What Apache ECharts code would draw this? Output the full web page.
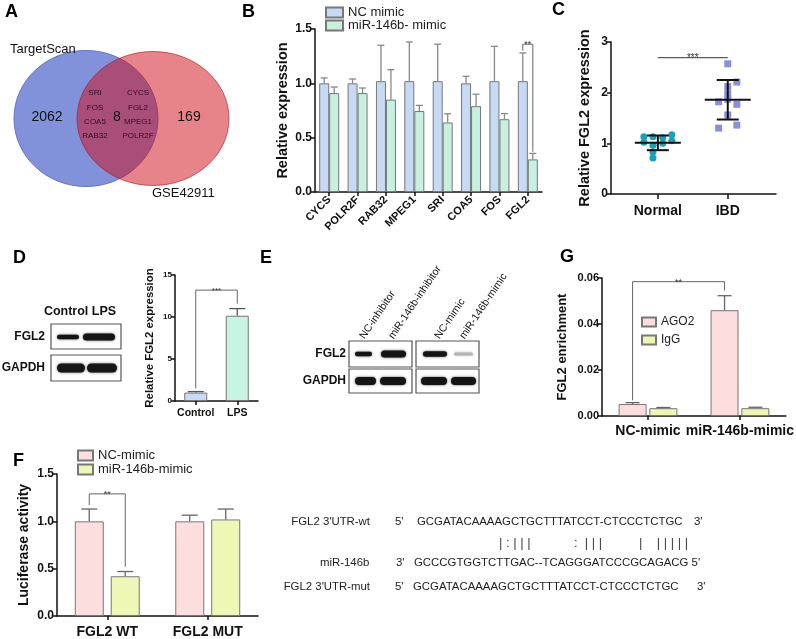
<!DOCTYPE html>
<html><head><meta charset="utf-8">
<script src="https://cdn.jsdelivr.net/npm/echarts@6/dist/echarts.min.js"></script>
<style>html,body{margin:0;padding:0;background:#fff}#c{width:796px;height:639px}</style>
</head><body><div id="c"></div>
<script>
const FONT = '"Liberation Sans", Arial, Helvetica, sans-serif';

// ---------- Panel A (Venn) ----------
const vennSets = ['TargetScan', 'GSE42911'];
const vennCounts = [2062, 8, 169];
const vennGenesLeft = ['SRI', 'FOS', 'COA5', 'RAB32'];
const vennGenesRight = ['CYCS', 'FGL2', 'MPEG1', 'POLR2F'];

// ---------- Panel B ----------
const bGenes = ['CYCS', 'POLR2F', 'RAB32', 'MPEG1', 'SRI', 'COA5', 'FOS', 'FGL2'];
const bSeries = ['NC mimic', 'miR-146b- mimic'];
const bNC = [1.00, 1.00, 1.02, 1.02, 1.02, 1.00, 1.02, 1.02];
const bNCerr = [0.05, 0.04, 0.33, 0.36, 0.34, 0.065, 0.32, 0.26];
const bMimic = [0.91, 0.91, 0.85, 0.745, 0.64, 0.79, 0.67, 0.30];
const bMimicErr = [0.056, 0.047, 0.276, 0.052, 0.08, 0.11, 0.052, 0.055];
const bSig = {i: 7, top: 1.36, l: 1.30, r: 0.37, label: '**'};

// ---------- Panel C ----------
const cGroups = ['Normal', 'IBD'];
const cCenters = [0.67, 1.67];
const cNormalVals = [1.13, 1.13, 1.11, 1.17, 1.02, 0.96, 1.00, 1.05, 0.83, 0.71];
const cNormalJit = [-0.2, -0.07, 0.07, 0.2, -0.2, -0.07, 0.07, 0.2, -0.07, -0.07];
const cIBDVals = [2.57, 2.21, 2.12, 1.98, 1.82, 1.87, 1.77, 1.56, 1.30, 1.36];
const cIBDJit = [0, 0.13, 0, 0, -0.13, 0, 0.13, 0, -0.13, 0.13];
const cMean = [1.01, 1.86];
const cSD = [0.145, 0.39];
const cSig = {top: 2.69, label: '***'};

// ---------- Panel D ----------
const dCats = ['Control', 'LPS'];
const dVals = [1.0, 10.15];
const dErr = [0.12, 0.85];
const dSig = {top: 13.2, l: 1.5, r: 11.6, label: '***'};
const dBlotRows = ['FGL2', 'GAPDH'];

// ---------- Panel E ----------
const eLanes = ['NC-inhibitor', 'miR-146b-inhibitor', 'NC-mimic', 'miR-146b-mimic'];

// ---------- Panel G ----------
const gCats = ['NC-mimic', 'miR-146b-mimic'];
const gSeries = ['AGO2', 'IgG'];
const gAGO2 = [0.0052, 0.046];
const gAGO2err = [0.0006, 0.0063];
const gIgG = [0.0034, 0.0034];
const gIgGerr = [0.0003, 0.0004];
const gSig = {top: 0.0584, l: 0.0068, r: 0.0545, label: '**'};

// ---------- Panel F ----------
const fCats = ['FGL2 WT', 'FGL2 MUT'];
const fSeries = ['NC-mimic', 'miR-146b-mimic'];
const fNC = [1.0, 1.0];
const fNCerr = [0.13, 0.065];
const fMimic = [0.42, 1.02];
const fMimicErr = [0.05, 0.11];
const fSig = {top: 1.29, l: 1.17, r: 0.52, label: '**'};

// ---------- Sequences ----------
const seqLabels = ["FGL2 3'UTR-wt", 'miR-146b', "FGL2 3'UTR-mut"];
const seqWT = 'GCGATACAAAAGCTGCTTTATCCT-CTCCCTCTGC';
const seqMiR = 'GCCCGTGGTCTTGAC--TCAGGGATCCCGCAGACG';
const seqMUT = 'GCGATACAAAAGCTGCTTTATCCT-CTCCCTCTGC';
const seqMatch = ['| : | | |', ':  | | |', '|    | | | | |'];

// ================= helpers =================
const G = [];
function txt(x, y, text, o = {}) {
  G.push({type: 'text', x, y, rotation: o.rot || 0, silent: true, z: 10,
    style: {text, fill: o.color || '#111',
      font: (o.bold ? 'bold ' : '') + (o.size || 12) + 'px ' + FONT,
      align: o.align || 'left', verticalAlign: o.va || 'middle'}});
}
function rect(x, y, w, h, style, r) {
  G.push({type: 'rect', silent: true, z: 5, shape: {x, y, width: w, height: h, r: r || 0}, style});
}
function band(x, y, w, h, color) {
  rect(x, y - h / 2, w, h, {fill: color || '#151515', shadowBlur: 2.5, shadowColor: color || 'rgba(0,0,0,0.7)'}, h / 2);
}

function yAx(gi, min, max, interval, name, nameSize, nameGap, labSize, dec) {
  return {type: 'value', gridIndex: gi, min, max, interval, name, nameLocation: 'middle', nameGap, nameRotate: 90,
    nameTextStyle: {fontSize: nameSize, fontWeight: 'bold', color: '#111', fontFamily: FONT},
    axisLine: {show: true, lineStyle: {color: '#111', width: 1.5}},
    axisTick: {show: true, length: 4, lineStyle: {color: '#111', width: 1.5}},
    axisLabel: {fontSize: labSize, fontWeight: 'bold', color: '#111', margin: 3, fontFamily: FONT,
      formatter: v => v.toFixed(dec)},
    splitLine: {show: false}};
}
function xCat(gi, data, labSize, margin, rotate) {
  return {type: 'category', gridIndex: gi, data,
    axisLine: {show: true, lineStyle: {color: '#111', width: 1.5}},
    axisTick: {show: true, alignWithLabel: true, length: 4, lineStyle: {color: '#111', width: 1.5}},
    axisLabel: {interval: 0, rotate: rotate || 0, fontSize: labSize, fontWeight: 'bold', color: '#111', margin, fontFamily: FONT},
    splitLine: {show: false}};
}
function errSeries(ai, vals, errs, off, cap, color) {
  return {type: 'custom', xAxisIndex: ai, yAxisIndex: ai, z: 3, silent: true,
    data: vals.map((v, i) => [i, v, errs[i]]), encode: {x: 0, y: 1},
    renderItem: (p, api) => {
      const a = api.coord([api.value(0), api.value(1)]);
      const b = api.coord([api.value(0), api.value(1) + api.value(2)]);
      const x = a[0] + off;
      return {type: 'group', children: [
        {type: 'line', shape: {x1: x, y1: a[1], x2: x, y2: b[1]}, style: {stroke: color, lineWidth: 1.3}},
        {type: 'line', shape: {x1: x - cap / 2, y1: b[1], x2: x + cap / 2, y2: b[1]}, style: {stroke: color, lineWidth: 1.3}}
      ]};
    }};
}
function bracketSeries(ai, x1, x2, sig, offL, offR, fs) {
  return {type: 'custom', xAxisIndex: ai, yAxisIndex: ai, z: 4, silent: true,
    data: [[x1, x2, sig.top, sig.l, sig.r]], encode: {x: 0, y: 2},
    renderItem: (p, api) => {
      const ta = api.coord([api.value(0), api.value(2)]);
      const tb = api.coord([api.value(1), api.value(2)]);
      const la = api.coord([api.value(0), api.value(3)]);
      const rb = api.coord([api.value(1), api.value(4)]);
      const xa = ta[0] + offL, xb = tb[0] + offR, yt = ta[1];
      return {type: 'group', children: [
        {type: 'polyline', shape: {points: [[xa, la[1]], [xa, yt], [xb, yt], [xb, rb[1]]]},
          style: {stroke: '#666', lineWidth: 1, fill: null}},
        {type: 'text', style: {text: sig.label, x: (xa + xb) / 2, y: yt + 0.5, align: 'center', verticalAlign: 'middle',
          font: fs + 'px ' + FONT, fill: '#333'}}
      ]};
    }};
}

// ================= Graphic: panel letters =================
[['A', 5, 3], ['B', 242, 3], ['C', 552, 1], ['D', 13, 249], ['E', 260, 249], ['G', 560, 248], ['F', 13, 452]]
  .forEach(([t, x, y]) => txt(x, y, t, {bold: true, size: 18, va: 'top', color: '#000'}));

// ================= Venn =================
G.push({type: 'ellipse', silent: true, z: 1, shape: {cx: 86, cy: 118.5, rx: 72, ry: 68},
  style: {fill: '#8292da', stroke: '#6474ca', lineWidth: 1}});
G.push({type: 'ellipse', silent: true, z: 2, shape: {cx: 153, cy: 118.5, rx: 76, ry: 67},
  style: {fill: 'rgba(208,10,22,0.5)', stroke: 'rgba(170,20,30,0.6)', lineWidth: 1}});
txt(10, 49, vennSets[0], {size: 13});
txt(152, 193, vennSets[1], {size: 13});
txt(47, 117, String(vennCounts[0]), {size: 14, align: 'center'});
txt(117, 117, String(vennCounts[1]), {size: 14, align: 'center'});
txt(189, 117, String(vennCounts[2]), {size: 14, align: 'center'});
vennGenesLeft.forEach((g, i) => txt(95, 93 + i * 14.3, g, {size: 8, align: 'center', color: '#2a1020'}));
vennGenesRight.forEach((g, i) => txt(138, 93 + i * 14.3, g, {size: 8, align: 'center', color: '#2a1020'}));

// ================= D blot =================
txt(80, 312, 'Control LPS', {bold: true, size: 12.5, align: 'center'});
txt(45, 337, dBlotRows[0], {bold: true, size: 12, align: 'right'});
txt(45, 368, dBlotRows[1], {bold: true, size: 12, align: 'right'});
rect(51, 324, 70, 25, {fill: '#fff', stroke: '#555', lineWidth: 1.2});
rect(51, 355, 70, 26, {fill: '#fff', stroke: '#555', lineWidth: 1.2});
band(57, 337, 22, 4.5);
band(83, 337, 32, 7);
band(57, 368, 28, 9);
band(87, 368, 30, 9);

// ================= E blot =================
const eTop1 = 341, eTop2 = 369;
txt(346, eTop1 + 13, 'FGL2', {bold: true, size: 12, align: 'right'});
txt(346, eTop2 + 12, 'GAPDH', {bold: true, size: 12, align: 'right'});
rect(349, eTop1, 63, 26, {fill: '#fff', stroke: '#555', lineWidth: 1.2});
rect(416, eTop1, 63, 26, {fill: '#fff', stroke: '#555', lineWidth: 1.2});
rect(349, eTop2, 63, 24, {fill: '#fff', stroke: '#555', lineWidth: 1.2});
rect(416, eTop2, 63, 24, {fill: '#fff', stroke: '#555', lineWidth: 1.2});
band(355, eTop1 + 13, 17, 4.5);
band(381, eTop1 + 13, 25, 7);
band(423, eTop1 + 13, 24, 5.5);
band(454, eTop1 + 13, 19, 3, '#b5b5b5');
band(355, eTop2 + 12, 21, 8);
band(380, eTop2 + 12, 26, 8);
band(421, eTop2 + 12, 26, 8);
band(451, eTop2 + 12, 25, 8);
[362, 391, 437, 462].forEach((x, i) =>
  txt(x, eTop1 - 3, eLanes[i], {size: 10.5, rot: 56 * Math.PI / 180, align: 'left', va: 'middle', color: '#111'}));

// ================= Sequences =================
const SF = 11.4;
txt(370, 522, seqLabels[0], {size: SF, align: 'right', color: '#222'});
txt(320, 563, seqLabels[1], {size: SF, color: '#222'});
txt(370, 587, seqLabels[2], {size: SF, align: 'right', color: '#222'});
txt(395, 522, "5'", {size: SF, color: '#222'});
txt(417, 522, seqWT, {size: SF, color: '#222'});
txt(694, 522, "3'", {size: SF, color: '#222'});
txt(396, 563, "3'", {size: SF, color: '#222'});
txt(414, 563, seqMiR + " 5'", {size: SF, color: '#222'});
txt(395, 587, "5'", {size: SF, color: '#222'});
txt(413, 587, seqMUT, {size: SF, color: '#222'});
txt(697, 587, "3'", {size: SF, color: '#222'});
txt(499, 543, seqMatch[0], {size: 13, color: '#444'});
txt(574, 543, seqMatch[1], {size: 13, color: '#444'});
txt(639, 543, seqMatch[2], {size: 13, color: '#444'});

// ================= option =================
const option = {
  animation: false,
  backgroundColor: '#fff',
  textStyle: {fontFamily: FONT},
  grid: [
    {left: 315, top: 29, width: 227, height: 163},
    {left: 611, top: 42, width: 165, height: 152},
    {left: 175, top: 275, width: 83, height: 126},
    {left: 602, top: 278, width: 188, height: 138},
    {left: 57, top: 474, width: 201, height: 144}
  ],
  xAxis: [
    xCat(0, bGenes, 11, 6, 45),
    {type: 'value', gridIndex: 1, min: 0, max: 2.36,
      axisLine: {show: true, lineStyle: {color: '#111', width: 1.5}},
      axisTick: {show: true, customValues: cCenters, length: 5, lineStyle: {color: '#111', width: 1.5}},
      axisLabel: {customValues: cCenters, fontSize: 14, fontWeight: 'bold', color: '#111', margin: 10, fontFamily: FONT,
        formatter: v => cGroups[cCenters.findIndex(c => Math.abs(c - v) < 1e-6)] || ''},
      splitLine: {show: false}},
    xCat(2, dCats, 10.5, 7, 0),
    xCat(3, gCats, 14, 8, 0),
    xCat(4, fCats, 14, 9, 0)
  ],
  yAxis: [
    yAx(0, 0, 1.5, 0.5, 'Relative expression', 14.5, 25, 12, 1),
    yAx(1, 0, 3, 1, 'Relative FGL2 expression', 14.5, 19, 12, 0),
    yAx(2, 0, 15, 5, 'Relative FGL2 expression', 11.4, 20, 8, 0),
    yAx(3, 0, 0.06, 0.02, 'FGL2 enrichment', 13, 33, 11, 2),
    yAx(4, 0, 1.5, 0.5, 'Luciferase activity', 14, 26, 12, 1)
  ],
  legend: [
    {data: bSeries, left: 325, top: 6, padding: 0, orient: 'vertical', itemWidth: 17, itemHeight: 10, itemGap: 0, icon: 'rect',
      selectedMode: false, textStyle: {fontSize: 13, color: '#222', fontFamily: FONT}},
    {data: gSeries, left: 641, top: 316, padding: 0, orient: 'vertical', itemWidth: 14, itemHeight: 9, itemGap: 6, icon: 'rect',
      selectedMode: false, textStyle: {fontSize: 12, color: '#222', fontFamily: FONT}},
    {data: fSeries, left: 77, top: 449, padding: 0, orient: 'vertical', itemWidth: 15, itemHeight: 10, itemGap: 1, icon: 'rect',
      selectedMode: false, textStyle: {fontSize: 13, color: '#222', fontFamily: FONT}}
  ],
  graphic: {elements: G},
  series: [
    // B
    {type: 'bar', name: bSeries[0], xAxisIndex: 0, yAxisIndex: 0, data: bNC, barWidth: 10, barGap: '0%',
      itemStyle: {color: '#c6daf5', borderColor: '#777', borderWidth: 1}},
    {type: 'bar', name: bSeries[1], xAxisIndex: 0, yAxisIndex: 0, data: bMimic, barWidth: 10, barGap: '0%',
      itemStyle: {color: '#c7f0df', borderColor: '#777', borderWidth: 1}},
    errSeries(0, bNC, bNCerr, -5, 7, '#888'),
    errSeries(0, bMimic, bMimicErr, 5, 7, '#888'),
    bracketSeries(0, bSig.i, bSig.i, bSig, -5, 5, 9),
    // C
    {type: 'scatter', name: cGroups[0], xAxisIndex: 1, yAxisIndex: 1, symbol: 'circle', symbolSize: 7,
      data: cNormalVals.map((v, i) => [cCenters[0] + cNormalJit[i], v]), itemStyle: {color: '#17a2b8', opacity: 1}, z: 2},
    {type: 'scatter', name: cGroups[1], xAxisIndex: 1, yAxisIndex: 1, symbol: 'rect', symbolSize: 7,
      data: cIBDVals.map((v, i) => [cCenters[1] + cIBDJit[i], v]), itemStyle: {color: '#8a8fd8', opacity: 1}, z: 2},
    {type: 'custom', xAxisIndex: 1, yAxisIndex: 1, z: 4, silent: true,
      data: cCenters.map((c, i) => [c, cMean[i], cSD[i]]), encode: {x: 0, y: 1},
      renderItem: (p, api) => {
        const m = api.coord([api.value(0), api.value(1)]);
        const hi = api.coord([api.value(0), api.value(1) + api.value(2)]);
        const lo = api.coord([api.value(0), api.value(1) - api.value(2)]);
        const st = {stroke: '#111', lineWidth: 2};
        return {type: 'group', children: [
          {type: 'line', shape: {x1: m[0] - 23, y1: m[1], x2: m[0] + 23, y2: m[1]}, style: st},
          {type: 'line', shape: {x1: m[0], y1: hi[1], x2: m[0], y2: lo[1]}, style: st},
          {type: 'line', shape: {x1: m[0] - 11, y1: hi[1], x2: m[0] + 11, y2: hi[1]}, style: st},
          {type: 'line', shape: {x1: m[0] - 11, y1: lo[1], x2: m[0] + 11, y2: lo[1]}, style: st}
        ]};
      }},
    {type: 'custom', xAxisIndex: 1, yAxisIndex: 1, z: 4, silent: true,
      data: [[cCenters[0], cCenters[1], cSig.top]], encode: {x: 0, y: 2},
      renderItem: (p, api) => {
        const a = api.coord([api.value(0), api.value(2)]);
        const b = api.coord([api.value(1), api.value(2)]);
        return {type: 'group', children: [
          {type: 'line', shape: {x1: a[0], y1: a[1], x2: b[0], y2: b[1]}, style: {stroke: '#333', lineWidth: 1}},
          {type: 'text', style: {text: cSig.label, x: (a[0] + b[0]) / 2, y: a[1] + 0.5, align: 'center', verticalAlign: 'middle',
            font: '10px ' + FONT, fill: '#333'}}
        ]};
      }},
    // D
    {type: 'bar', xAxisIndex: 2, yAxisIndex: 2, barWidth: 23,
      data: dVals.map((v, i) => ({value: v, itemStyle: {color: i === 0 ? '#c7dbf7' : '#c8f4e4'}})),
      itemStyle: {borderColor: '#777', borderWidth: 1}},
    errSeries(2, dVals, dErr, 0, 16, '#555'),
    bracketSeries(2, 0, 1, dSig, 0, 0, 8),
    // G
    {type: 'bar', name: gSeries[0], xAxisIndex: 3, yAxisIndex: 3, data: gAGO2, barWidth: 28, barGap: '10%',
      itemStyle: {color: '#fcdcdc', borderColor: '#777', borderWidth: 1}},
    {type: 'bar', name: gSeries[1], xAxisIndex: 3, yAxisIndex: 3, data: gIgG, barWidth: 28, barGap: '10%',
      itemStyle: {color: '#eef6b2', borderColor: '#777', borderWidth: 1}},
    errSeries(3, gAGO2, gAGO2err, -15.4, 14, '#666'),
    errSeries(3, gIgG, gIgGerr, 15.4, 14, '#666'),
    bracketSeries(3, 0, 1, gSig, -15.4, -15.4, 9),
    // F
    {type: 'bar', name: fSeries[0], xAxisIndex: 4, yAxisIndex: 4, data: fNC, barWidth: 29, barGap: '24%',
      itemStyle: {color: '#fddede', borderColor: '#777', borderWidth: 1}},
    {type: 'bar', name: fSeries[1], xAxisIndex: 4, yAxisIndex: 4, data: fMimic, barWidth: 29, barGap: '24%',
      itemStyle: {color: '#eff7b6', borderColor: '#777', borderWidth: 1}},
    errSeries(4, fNC, fNCerr, -18, 16, '#666'),
    errSeries(4, fMimic, fMimicErr, 18, 16, '#666'),
    bracketSeries(4, 0, 0, fSig, -18, 18, 9)
  ]
};
const chart = echarts.init(document.getElementById('c'), null, {renderer: 'canvas', width: 796, height: 639});
chart.setOption(option);
</script></body></html>
